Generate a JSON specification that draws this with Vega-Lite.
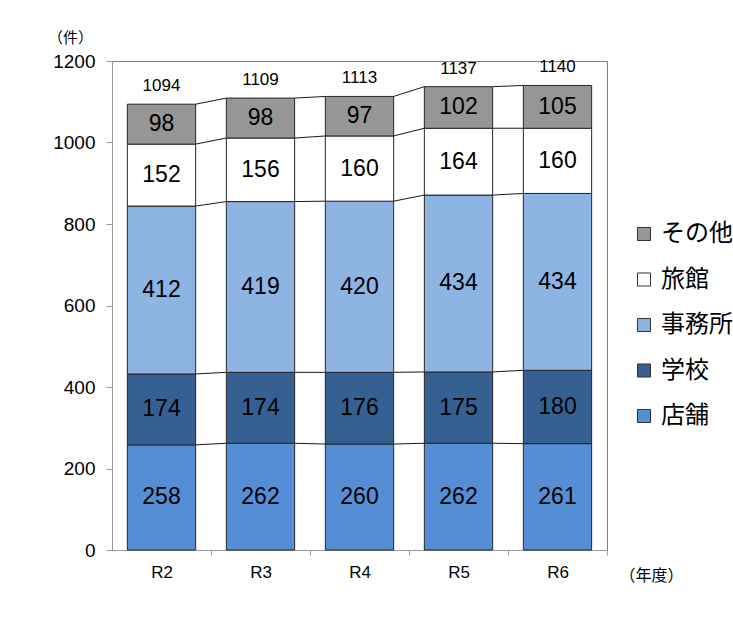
{
  "$schema": "https://vega.github.io/schema/vega-lite/v6.json",
  "width": 495,
  "height": 489,
  "autosize": "none",
  "padding": {"left": 112, "top": 61, "right": 126, "bottom": 89},
  "background": "white",
  "config": {
    "view": {"stroke": "#808080", "strokeWidth": 1},
    "font": "Liberation Sans"
  },
  "data": {
    "values": [
      {"year": "R2", "category": "店舗", "value": 258},
      {"year": "R2", "category": "学校", "value": 174},
      {"year": "R2", "category": "事務所", "value": 412},
      {"year": "R2", "category": "旅館", "value": 152},
      {"year": "R2", "category": "その他", "value": 98},
      {"year": "R3", "category": "店舗", "value": 262},
      {"year": "R3", "category": "学校", "value": 174},
      {"year": "R3", "category": "事務所", "value": 419},
      {"year": "R3", "category": "旅館", "value": 156},
      {"year": "R3", "category": "その他", "value": 98},
      {"year": "R4", "category": "店舗", "value": 260},
      {"year": "R4", "category": "学校", "value": 176},
      {"year": "R4", "category": "事務所", "value": 420},
      {"year": "R4", "category": "旅館", "value": 160},
      {"year": "R4", "category": "その他", "value": 97},
      {"year": "R5", "category": "店舗", "value": 262},
      {"year": "R5", "category": "学校", "value": 175},
      {"year": "R5", "category": "事務所", "value": 434},
      {"year": "R5", "category": "旅館", "value": 164},
      {"year": "R5", "category": "その他", "value": 102},
      {"year": "R6", "category": "店舗", "value": 261},
      {"year": "R6", "category": "学校", "value": 180},
      {"year": "R6", "category": "事務所", "value": 434},
      {"year": "R6", "category": "旅館", "value": 160},
      {"year": "R6", "category": "その他", "value": 105}
    ]
  },
  "transform": [
    {"calculate": "indexof(['店舗','学校','事務所','旅館','その他'], datum.category)", "as": "k"},
    {"stack": "value", "groupby": ["year"], "sort": [{"field": "k", "order": "ascending"}], "as": ["y0", "y1"]},
    {"calculate": "(datum.y0 + datum.y1) / 2", "as": "mid"}
  ],
  "layer": [
    {
      "transform": [
        {"window": [{"op": "lead", "field": "year", "as": "nyear"}, {"op": "lead", "field": "y1", "as": "ny1"}], "groupby": ["category"], "sort": [{"field": "year", "order": "ascending"}], "frame": [null, null]},
        {"filter": "datum.nyear != null"}
      ],
      "mark": {"type": "rule", "color": "#1a1a1a", "strokeWidth": 1},
      "encoding": {
        "x": {"field": "year", "type": "nominal", "bandPosition": 1},
        "x2": {"field": "nyear", "bandPosition": 0},
        "y": {"field": "y1", "type": "quantitative"},
        "y2": {"field": "ny1"}
      }
    },
    {
      "mark": {"type": "bar", "stroke": "#262626", "strokeWidth": 1},
      "encoding": {
        "x": {
          "field": "year", "type": "nominal",
          "scale": {"paddingInner": 0.31, "paddingOuter": 0.155},
          "axis": {
            "labelAngle": 0, "labelFontSize": 17, "labelColor": "#000", "labelPadding": 17,
            "bandPosition": 1, "tickOffset": 15.35, "labelOffset": -15.35, "labelAlign": "center",
            "tickSize": 5, "tickColor": "#999", "domainColor": "#999",
            "title": "（年度）", "titleFont": "Noto Sans CJK JP", "titleFontSize": 16, "titleFontWeight": "normal",
            "titleAngle": 0, "titleX": 539, "titleY": 25, "titleAlign": "center", "titleBaseline": "middle", "titleColor": "#000"
          }
        },
        "y": {
          "field": "y1", "type": "quantitative",
          "scale": {"domain": [0, 1200]},
          "axis": {
            "values": [0, 200, 400, 600, 800, 1000, 1200], "grid": false, "format": "d",
            "labelFontSize": 19, "labelColor": "#000", "labelPadding": 11,
            "tickSize": 6, "tickColor": "#999", "domainColor": "#999",
            "title": "（件）", "titleFont": "Noto Sans CJK JP", "titleFontSize": 15, "titleFontWeight": "normal",
            "titleAngle": 0, "titleX": -42, "titleY": -24, "titleAlign": "center", "titleBaseline": "middle", "titleColor": "#000"
          }
        },
        "y2": {"field": "y0"},
        "color": {
          "field": "category", "type": "nominal",
          "scale": {"domain": ["その他", "旅館", "事務所", "学校", "店舗"], "range": ["#969696", "#ffffff", "#8EB4E3", "#376092", "#558ED5"]},
          "legend": {
            "title": null, "orient": "none", "legendX": 520, "legendY": 161,
            "symbolType": "square", "symbolSize": 170, "symbolStrokeColor": "#333", "symbolStrokeWidth": 1, "symbolOpacity": 1,
            "labelFont": "Noto Sans CJK JP", "labelFontSize": 24, "labelColor": "#000", "labelOffset": 5, "rowPadding": 21.5
          }
        }
      }
    },
    {
      "mark": {"type": "text", "fontSize": 23, "color": "#000", "baseline": "middle"},
      "encoding": {
        "x": {"field": "year", "type": "nominal"},
        "y": {"field": "mid", "type": "quantitative"},
        "text": {"field": "value", "type": "quantitative"}
      }
    },
    {
      "transform": [{"filter": "datum.category == 'その他'"}],
      "mark": {"type": "text", "fontSize": 17, "color": "#000", "baseline": "bottom", "dy": -9},
      "encoding": {
        "x": {"field": "year", "type": "nominal"},
        "y": {"field": "y1", "type": "quantitative"},
        "text": {"field": "y1", "type": "quantitative"}
      }
    }
  ]
}
